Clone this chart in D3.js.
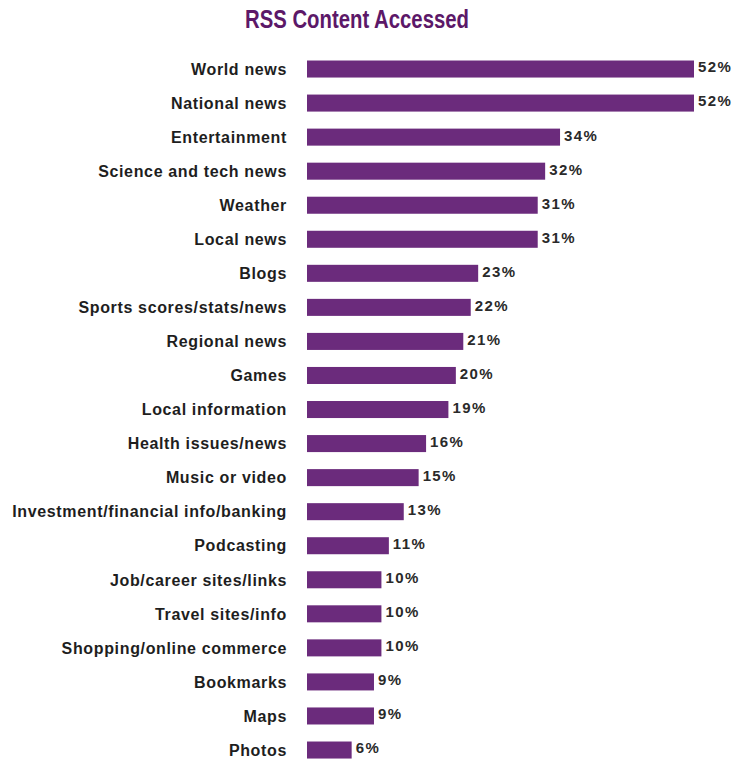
<!DOCTYPE html>
<html>
<head>
<meta charset="utf-8">
<script src="https://cdn.jsdelivr.net/npm/d3@7"></script>
<style>
  body { margin: 0; background: #fff; }
  svg { display: block; }
</style>
</head>
<body>
<svg id="chart" width="735" height="760"></svg>
<script>
// RSS content categories and share of users accessing each (%)
const categories = [
  "World news", "National news", "Entertainment", "Science and tech news",
  "Weather", "Local news", "Blogs", "Sports scores/stats/news",
  "Regional news", "Games", "Local information", "Health issues/news",
  "Music or video", "Investment/financial info/banking", "Podcasting",
  "Job/career sites/links", "Travel sites/info", "Shopping/online commerce",
  "Bookmarks", "Maps", "Photos"
];
const values = [52, 52, 34, 32, 31, 31, 23, 22, 21, 20, 19, 16, 15, 13, 11, 10, 10, 10, 9, 9, 6];
const title = "RSS Content Accessed";

const svg = d3.select("#chart");
const margin = { top: 52, left: 307 };
const plotW = 387;   // width for the 52% bars
const rowH = 34.05;

const x = d3.scaleLinear().domain([0, 52]).range([0, plotW]);
const y = d3.scaleBand()
  .domain(categories)
  .range([margin.top, margin.top + rowH * categories.length])
  .paddingInner(0.5)
  .paddingOuter(0.25);

// title
svg.append("text")
  .attr("x", 357)
  .attr("y", 28)
  .attr("text-anchor", "middle")
  .attr("font-family", "'Liberation Sans Narrow', 'Liberation Sans', Arial, sans-serif")
  .attr("font-stretch", "condensed")
  .attr("font-weight", "bold")
  .attr("font-size", 26)
  .attr("textLength", 224)
  .attr("lengthAdjust", "spacingAndGlyphs")
  .attr("fill", "#5c1868")
  .text(title);

const rows = svg.append("g")
  .selectAll("g")
  .data(categories.map((c, i) => ({ cat: c, val: values[i] })))
  .join("g");

rows.append("rect")
  .attr("x", margin.left)
  .attr("y", d => y(d.cat))
  .attr("width", d => x(d.val))
  .attr("height", y.bandwidth())
  .attr("fill", "#6b2b7c");

// category labels on the left
rows.append("text")
  .attr("x", 287)
  .attr("y", d => y(d.cat) + y.bandwidth() / 2)
  .attr("dy", "0.36em")
  .attr("text-anchor", "end")
  .attr("font-family", "'Liberation Sans', Arial, sans-serif")
  .attr("font-weight", "bold")
  .attr("font-size", 16)
  .attr("letter-spacing", 0.65)
  .attr("fill", "#1e1e1e")
  .text(d => d.cat);

// value labels at bar ends
rows.append("text")
  .attr("x", d => margin.left + x(d.val) + 4)
  .attr("y", d => y(d.cat) + y.bandwidth() / 2 - 2)
  .attr("dy", "0.36em")
  .attr("font-family", "'Liberation Sans', Arial, sans-serif")
  .attr("font-weight", "bold")
  .attr("font-size", 15)
  .attr("letter-spacing", 1.4)
  .attr("fill", "#2a2a2a")
  .text(d => d.val + "%");
</script>
</body>
</html>
